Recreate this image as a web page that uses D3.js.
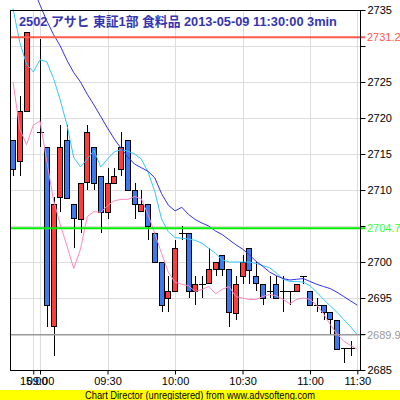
<!DOCTYPE html>
<meta charset="utf-8" />
<style>
  body {
    background: #fff;
    margin: 0px;
  }
  svg text {
    font-family: "Liberation Sans", Arial, "Noto Sans CJK JP", sans-serif;
  }
  .grid line {
    stroke: #dddddd;
    stroke-width: 1px;
    shape-rendering: crispEdges;
  }
  .wick {
    stroke: #000;
    stroke-width: 1px;
    shape-rendering: crispEdges;
  }
  .body {
    stroke: #000;
    stroke-width: 1px;
    shape-rendering: crispEdges;
  }
  .ma {
    fill: none;
    stroke-width: 1px;
  }
</style>
<body>
<script src="https://d3js.org/d3.v7.min.js"></script>
<script>
  var width = 400,
    height = 400;

  // 3-minute bars, index 3 (15:00) has no trade
  var opens = [2717, 2714, 2721, null, 2718, 2716, 2691, 2709, 2717, 2708,
    2706, 2711, 2716, 2712, 2707, 2711, 2713, 2717, 2710, 2707,
    2708, 2704, 2700, 2695, 2696, 2704, 2704, 2696, 2697, 2697,
    2699, 2701, 2699, 2693, 2698, 2702, 2698, 2697, 2696, 2697,
    2696, 2696, 2696, 2698, 2696, 2694, 2694, 2693, 2692, 2688, 2688];
  var highs = [2717, 2723, 2732, null, 2731, 2716, 2709, 2719, 2719, 2708,
    2711, 2719, 2716, 2712, 2713, 2713, 2718, 2717, 2711, 2710,
    2708, 2704, 2700, 2698, 2703, 2705, 2704, 2698, 2698, 2702,
    2700, 2701, 2699, 2698, 2701, 2702, 2700, 2697, 2698, 2698,
    2698, 2696, 2697, 2698, 2696, 2695, 2694, 2693, 2692, 2688, 2689];
  var lows = [2712, 2712, 2721, null, 2716, 2691, 2687, 2707, 2709, 2702,
    2704, 2710, 2710, 2704, 2706, 2711, 2712, 2710, 2706, 2707,
    2703, 2700, 2693, 2693, 2696, 2703, 2695, 2694, 2695, 2697,
    2698, 2698, 2691, 2692, 2697, 2697, 2696, 2694, 2695, 2695,
    2693, 2694, 2696, 2697, 2694, 2693, 2692, 2690, 2688, 2686, 2687];
  var closes = [2713, 2721, 2732, null, 2718, 2694, 2708, 2716, 2709, 2706,
    2711, 2718, 2711, 2707, 2711, 2712, 2716, 2710, 2708, 2708,
    2705, 2700, 2694, 2696, 2702, 2704, 2696, 2697, 2697, 2699,
    2700, 2699, 2693, 2697, 2700, 2699, 2697, 2695, 2696, 2695,
    2696, 2696, 2697, 2698, 2694, 2694, 2693, 2692, 2688, 2688, 2688];

  // moving averages (52 slots, last one is 11:30)
  var maShort = [2735.2, 2730.5, 2727.5, 2726.4, 2728.1, 2727.8, 2725.5, 2722.5, 2719.0, 2714.5,
    2713.2, 2714.3, 2715.5, 2713.2, 2714.3, 2715.3, 2715.6, 2715.4, 2715.0, 2714.3,
    2712.5, 2709.8, 2706.0, 2704.2, 2703.4, 2703.3, 2703.2, 2703.0, 2702.6, 2701.9,
    2701.2, 2700.3, 2700.0, 2700.0, 2700.0, 2700.0, 2699.8, 2699.5, 2699.2, 2698.5,
    2697.6, 2697.3, 2697.3, 2697.2, 2696.7, 2695.8, 2694.8, 2693.9, 2693.0, 2692.0,
    2691.0, 2689.9];
  var maLong = [2742.0, 2740.7, 2739.3, 2738.0, 2735.7, 2733.5, 2731.6, 2730.0, 2728.0, 2726.3,
    2725.0, 2723.3, 2721.8, 2720.2, 2718.6, 2717.1, 2715.8, 2714.6, 2713.6, 2713.1,
    2712.6, 2711.7, 2709.5, 2707.9, 2707.1, 2707.6, 2706.6, 2705.9, 2705.4, 2705.0,
    2704.3, 2703.8, 2703.1, 2702.4, 2701.8, 2701.0, 2700.1, 2699.4, 2698.6, 2698.1,
    2697.7, 2697.5, 2697.6, 2697.7, 2697.3, 2696.9, 2696.6, 2696.3, 2695.8, 2695.2,
    2694.6, 2694.0];
  var maLow = [2725.0, 2718.5, 2716.3, 2719.0, 2719.6, 2714.0, 2708.6, 2705.2, 2702.2, 2699.1,
    2701.8, 2706.3, 2707.0, 2706.9, 2707.8, 2708.5, 2708.7, 2708.7, 2709.1, 2708.8,
    2706.6, 2704.0, 2701.2, 2698.6, 2697.2, 2696.9, 2696.7, 2695.9, 2696.2, 2696.6,
    2695.6, 2696.2, 2696.6, 2695.2, 2695.0, 2694.8, 2694.8, 2695.2, 2695.5, 2695.3,
    2694.8, 2694.2, 2694.8, 2695.0, 2694.8, 2694.0, 2692.8, 2691.3, 2690.0, 2689.0,
    2688.4, 2687.9];

  var timeTicks = [3, 4, 14, 24, 34, 44, 51];
  var timeLabels = ["15:00", "09:00", "09:30", "10:00", "10:30", "11:00", "11:30"];

  var priceTicks = [2685, 2690, 2695, 2700, 2705, 2710, 2715, 2720, 2725, 2730, 2735];
  var hiddenLabels = [2690, 2705, 2730];

  var markValues = [2731.2, 2704.7, 2689.9];
  var markColors = ["#ff5a4a", "#00ee00", "#999999"];
  var markLabelColors = ["#ff5a4a", "#33ff33", "#999999"];

  var title = "2502 アサヒ 東証1部 食料品 2013-05-09 11:30:00 3min";

  var plotLeft = 10, plotRight = 360, plotTop = 10, plotBottom = 370;

  var x = d3.scaleLinear().domain([0, 51]).range([13, 357.3]);
  var y = d3.scaleLinear().domain([2685, 2735]).range([plotBottom, plotTop]);

  var svg = d3
    .select("body")
    .append("svg")
    .attr("width", width)
    .attr("height", height);

  svg.append("rect").attr("width", width).attr("height", height).attr("fill", "#fff");

  // grid
  var grid = svg.append("g").attr("class", "grid");
  grid
    .selectAll(".h")
    .data(priceTicks.slice(1, -1))
    .enter()
    .append("line")
    .attr("x1", plotLeft)
    .attr("x2", plotRight)
    .attr("y1", function (d) { return Math.round(y(d)) + 0.5; })
    .attr("y2", function (d) { return Math.round(y(d)) + 0.5; });
  grid
    .selectAll(".v")
    .data(timeTicks)
    .enter()
    .append("line")
    .attr("x1", function (d) { return Math.round(x(d)) + 0.5; })
    .attr("x2", function (d) { return Math.round(x(d)) + 0.5; })
    .attr("y1", plotTop)
    .attr("y2", plotBottom);

  // candles
  var bars = d3.range(opens.length).filter(function (i) { return opens[i] !== null; });

  var candles = svg.append("g");
  candles
    .selectAll(".wick")
    .data(bars)
    .enter()
    .append("line")
    .attr("class", "wick")
    .attr("x1", function (i) { return Math.round(x(i)) + 0.5; })
    .attr("x2", function (i) { return Math.round(x(i)) + 0.5; })
    .attr("y1", function (i) { return y(highs[i]); })
    .attr("y2", function (i) { return y(lows[i]); });

  candles
    .selectAll(".body")
    .data(bars.filter(function (i) { return opens[i] !== closes[i]; }))
    .enter()
    .append("rect")
    .attr("class", "body")
    .attr("x", function (i) { return Math.round(x(i)) - 2 - 0.5; })
    .attr("width", 5)
    .attr("y", function (i) { return Math.round(y(Math.max(opens[i], closes[i]))) + 0.5; })
    .attr("height", function (i) {
      return Math.round(Math.abs(y(opens[i]) - y(closes[i])));
    })
    .attr("fill", function (i) { return closes[i] > opens[i] ? "#ff3c3c" : "#3c78f0"; });

  candles
    .selectAll(".doji")
    .data(bars.filter(function (i) { return opens[i] === closes[i]; }))
    .enter()
    .append("line")
    .attr("class", "wick")
    .attr("x1", function (i) { return Math.round(x(i)) - 3; })
    .attr("x2", function (i) { return Math.round(x(i)) + 4; })
    .attr("y1", function (i) { return Math.round(y(opens[i])) + 0.5; })
    .attr("y2", function (i) { return Math.round(y(opens[i])) + 0.5; });

  // moving average lines
  var line = d3
    .line()
    .x(function (d, i) { return x(i); })
    .y(function (d) { return y(d); });

  svg.append("path").attr("class", "ma").attr("d", line(maLow)).attr("stroke", "#ff88c0");
  svg.append("path").attr("class", "ma").attr("d", line(maShort)).attr("stroke", "#33c8ff");
  svg.append("path").attr("class", "ma").attr("d", line(maLong)).attr("stroke", "#3333ee");

  // mark lines
  markValues.forEach(function (v, k) {
    svg
      .append("line")
      .attr("x1", plotLeft)
      .attr("x2", plotRight + 5)
      .attr("y1", y(v))
      .attr("y2", y(v))
      .attr("stroke", markColors[k])
      .attr("stroke-width", k === 2 ? 1.5 : 2);
    svg
      .append("text")
      .attr("x", 367)
      .attr("y", y(v) + 4)
      .attr("font-size", 11)
      .attr("fill", markLabelColors[k])
      .text(v.toFixed(1));
  });

  // frame
  svg
    .append("rect")
    .attr("x", plotLeft + 0.5)
    .attr("y", plotTop + 0.5)
    .attr("width", plotRight - plotLeft)
    .attr("height", plotBottom - plotTop)
    .attr("fill", "none")
    .attr("stroke", "#000")
    .attr("shape-rendering", "crispEdges");

  // y axis
  var yAxis = d3
    .axisRight(y)
    .tickValues(priceTicks)
    .tickSize(5)
    .tickPadding(2)
    .tickFormat(function (d) { return hiddenLabels.indexOf(d) >= 0 ? "" : d; });

  var ya = svg
    .append("g")
    .attr("transform", "translate(" + (plotRight + 0.5) + ",0)")
    .call(yAxis);
  ya.select(".domain").remove();
  ya.selectAll("text")
    .attr("font-size", 11)
    .attr("font-family", "Liberation Sans, Arial, sans-serif")
    .attr("fill", "#000");

  // x axis
  var xAxis = d3
    .axisBottom(x)
    .tickValues(timeTicks)
    .tickSize(4)
    .tickPadding(3)
    .tickFormat(function (d, k) { return timeLabels[k]; });

  var xa = svg
    .append("g")
    .attr("transform", "translate(0," + (plotBottom + 0.5) + ")")
    .call(xAxis);
  xa.select(".domain").remove();
  xa.selectAll("text")
    .attr("font-size", 11)
    .attr("font-family", "Liberation Sans, Arial, sans-serif")
    .attr("fill", "#000");

  // title
  svg
    .append("text")
    .attr("x", 19)
    .attr("y", 26)
    .attr("font-size", 12.8)
    .attr("font-weight", "bold")
    .attr("fill", "#3535b0")
    .text(title);

  // footer
  svg
    .append("rect")
    .attr("x", 0)
    .attr("y", 390)
    .attr("width", width)
    .attr("height", 10)
    .attr("fill", "#ffff00");
  svg
    .append("text")
    .attr("x", 85)
    .attr("y", 399)
    .attr("font-size", 10.5)
    .attr("textLength", 230)
    .attr("lengthAdjust", "spacingAndGlyphs")
    .attr("fill", "#000")
    .text("Chart Director (unregistered) from www.advsofteng.com");
</script>
</body>
